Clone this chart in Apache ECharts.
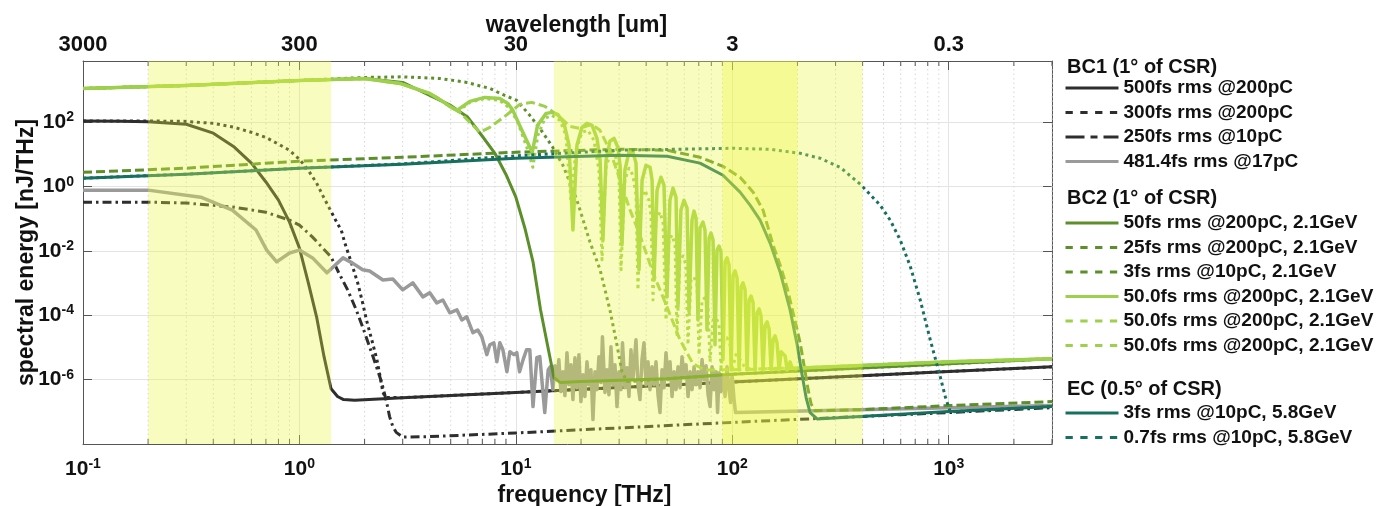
<!DOCTYPE html>
<html>
<head>
<meta charset="utf-8">
<title>CSR spectra</title>
<script src="https://cdn.jsdelivr.net/npm/echarts@6/dist/echarts.min.js"></script>
<style>
  html, body { margin: 0; padding: 0; background: #ffffff; }
  #chart { width: 1376px; height: 506px; }
</style>
</head>
<body>
<div id="chart"></div>
<script>
// Spectral energy of coherent synchrotron radiation, [frequency THz, energy nJ/THz]

// ---- BC1 ----
const bc1_500fs = [[0.1,110],[0.15,108],[0.2,105],[0.3,87],[0.4,46],[0.5,17],[0.6,5.4],[0.7,1.4],[0.8,0.38],[0.9,0.079],[1.0,0.0124],[1.1,1.0e-3],[1.2,9e-5],[1.3,5.1e-6],[1.4,5.2e-7],[1.5,3.0e-7],[1.6,2.4e-7],[1.8,2.3e-7],[3,2.75e-7],[10,4.0e-7],[100,8.4e-7],[1000,1.8e-6],[3000,2.5e-6]];
const bc1_300fs = [[0.1,110],[0.2,110],[0.3,107],[0.4,93],[0.5,70],[0.6,49],[0.7,34],[0.8,21],[0.9,13.5],[1.0,7.1],[1.1,3.2],[1.2,1.3],[1.3,0.44],[1.4,0.17],[1.5,0.07],[1.56,0.045],[1.62,0.018],[1.74,4.2e-3],[1.86,1.0e-3],[1.96,2.4e-4],[2.04,7.2e-5],[2.16,1.7e-5],[2.28,4.2e-6],[2.36,1.24e-6],[2.43,4.0e-7],[2.5,2.8e-7],[3,2.75e-7],[10,4.0e-7],[100,8.4e-7],[1000,1.8e-6],[3000,2.5e-6]];
const bc1_250fs = [[0.1,0.33],[0.2,0.33],[0.3,0.31],[0.5,0.23],[0.7,0.16],[0.9,0.091],[1.0,0.064],[1.15,0.027],[1.4,6.5e-3],[1.52,2.1e-3],[1.67,6.2e-4],[1.83,1.48e-4],[1.96,4.3e-5],[2.11,1.05e-5],[2.27,2.5e-6],[2.4,8.1e-7],[2.53,1.94e-7],[2.61,7.1e-8],[2.7,3.5e-8],[2.8,2.3e-8],[3.0,1.65e-8],[4,1.7e-8],[10,2.2e-8],[100,4.7e-8],[1000,9.5e-8],[3000,1.35e-7]];
const bc1_481fs = [[0.1,0.78],[0.2,0.78],[0.35,0.47],[0.49,0.187],[0.63,0.045],[0.706,0.0107],[0.785,4.6e-3],[0.9,8.7e-3],[1.0,0.0107],[1.15,6.1e-3],[1.34,2.1e-3],[1.59,6.1e-3],[1.76,4.2e-3],[1.96,2.6e-3],[2.11,2.4e-3],[2.43,1.26e-3],[2.7,1.35e-3],[3.0,6.2e-4],[3.34,1.02e-3],[3.72,3.75e-4],[4.0,5.0e-4],[4.31,2.44e-4],[4.6,3.0e-4],[4.95,1.2e-4],[5.34,1.48e-4],[5.63,7.2e-5],[5.93,9.0e-5],[6.33,2.9e-5],[6.67,3.5e-5],[6.96,2.15e-5],[7.34,6.0e-6],[7.58,1.22e-5],[7.91,1.4e-5],[8.17,3.6e-6],[8.43,1.4e-5],[8.71,8.5e-6],[9.09,1.77e-6],[9.38,7.4e-6],[9.79,6.0e-6],[10.1,6.9e-6],[10.4,1.77e-6],[10.8,4.2e-6],[11.2,8.5e-6],[11.6,8.5e-6],[12.0,1.46e-7],[12.5,4.8e-6],[12.9,5.2e-6],[13.6,9.5e-8],[14.1,2.0e-6],[14.4,2.5e-6],
  [14.83,4.9e-7],[15.15,2.7e-6],[15.47,1.0e-6],[15.80,4.2e-6],[16.15,4.25e-7],[16.50,1.77e-6],[16.85,3.2e-7],[17.22,6.9e-6],[17.59,7.0e-7],[17.97,2.9e-6],[18.35,2.4e-7],[18.75,4.8e-6],[19.15,5.65e-7],[19.56,6.0e-6],[19.98,2.08e-7],[20.41,1.43e-6],[20.85,3.0e-7],[21.30,3.6e-6],[21.76,7.0e-7],[22.23,2.04e-6],[22.71,5.75e-8],[23.20,1.77e-6],[23.69,4.9e-7],[24.20,5.2e-6],[24.72,8.1e-7],[25.12,2.15e-5],[25.80,4.0e-7],[26.35,2.04e-6],[26.92,3.4e-7],[27.50,1.05e-5],[28.09,7.0e-7],[28.70,2.9e-6],[29.32,1.46e-7],[29.95,1.77e-6],[30.59,4.9e-7],[31.09,1.4e-5],[31.92,5.65e-7],[32.61,2.35e-6],[33.31,3.0e-7],[34.02,8.5e-6],[34.75,1.0e-6],[35.89,1.74e-5],[36.66,7.0e-7],[37.45,2.4e-7],[38.26,4.2e-6],[39.08,1.4e-5],[39.93,7.0e-7],[40.79,3.6e-6],[41.66,4.9e-7],[42.56,2.5e-6],[43.48,7.0e-7],[44.41,3.6e-6],[45.37,3.4e-7],[46.34,9.5e-8],[47.34,2.04e-6],[48.36,5.65e-7],[49.40,6.9e-6],[50.47,1.0e-6],[51.55,3.6e-6],[52.66,3.0e-7],[53.80,1.77e-6],[54.95,4.9e-7],[56.14,2.5e-6],[57.35,5.65e-7],[58.58,5.2e-6],[59.84,1.15e-6],[61.13,2.9e-6],[62.45,3.0e-7],[63.79,1.77e-6],[65.17,4.9e-7],[66.57,2.5e-6],[68.00,7.0e-7],[69.46,1.77e-6],[70.96,5.65e-7],[72.49,4.2e-6],[74.04,1.0e-6],[75.64,2.7e-6],[77.27,3.4e-7],[78.93,1.46e-7],[80.63,2.5e-6],[82.37,4.9e-7],[84.14,1.77e-6],[85.50,9.5e-8],[86.87,1.65e-6],[88.74,4.25e-7],[90.65,1.15e-6],[92.60,3.0e-7],[94.56,2.5e-6],[96.60,4.9e-7],[98.15,1.94e-7],[99.73,1.43e-6],[101.9,2.4e-7],[103.5,9.5e-8],[1000,1.35e-7],[3000,1.57e-7]];

// ---- BC2 ----
const bc2_50fs = [[0.1,1130],[0.3,1400],[1,2000],[2,2300],[3,1740],[4,690],[5,336],[6,143],[7,37],[8,10.9],[9,2.4],[10,0.47],[11,0.052],[12,4.6e-3],[13,1.5e-4],[14,1.2e-5],[15,1.15e-6],[16,8.2e-7],[20,8.7e-7],[50,1.07e-6],[100,1.48e-6],[1000,3.1e-6],[3000,4.5e-6]];
const bc2_25fs = [[0.1,1130],[0.3,1400],[1,2000],[2,2480],[3,2600],[4.45,2312],[5.93,1740],[7.58,1130],[8.89,687],[10.1,481],[11.6,165],[13.3,49],[14.8,16.8],[16.5,4.6],[19.15,0.38],[22.0,0.019],[24.5,2.6e-3],[27.2,1.48e-4],[29.3,1.22e-5],[30.9,1.77e-6],[32.6,8.7e-7],[50,1.07e-6],[100,1.48e-6],[1000,3.1e-6],[3000,4.5e-6]];
const bc2_3fs = [[0.1,2.8],[0.3,3.75],[1,6.2],[3,8.2],[10,11.8],[30,14.6],[50,13.6],[70.9,8.2],[90.6,4.3],[108.6,1.97],[124.8,0.675],[138.7,0.187],[154.3,0.0153],[166.3,3.7e-3],[179.2,7.1e-4],[190.9,1.2e-4],[205.8,1.4e-5],[217,1.77e-6],[224,4.9e-7],[231.3,1.74e-7],[241.3,1.08e-7],[390,1.17e-7],[1000,1.56e-7],[3000,2.08e-7]];
const bc2_50fs_a = [[0.1,1130],[0.3,1400],[1,2000],[2,2300],[2.91,1620],[4,790],[4.45,517],[4.95,313],[5.34,236],[6.13,448],[7.19,596],[8.43,555],[9.18,388],[9.69,236],[10.4,81],[11.9,11.7],[12.6,81],[13.8,190],[14.7,204],[15.6,177],[16.7,93],[17.6,19.4],[18.35,0.045],[19.15,19.4],[20.2,70],[21.3,93],[22.5,81],[23.7,31.9],[24.5,6.6],[25.25,0.022],[26.1,6.6],[27.2,25.8],[28.4,31.9],[29.6,16.8],[30.3,4.6],[30.9,0.0153],[31.9,3.25],[33.3,11.7],[34.75,11.7],[35.9,5.4],[37.05,2.6e-3],[38.3,1.59],[39.9,4.6],[41.7,4.0],[42.6,1.59],[43.5,1.26e-3],[44.9,0.78],[46.8,1.97],[48.35,1.11],[49.9,3.75e-4],[51.5,0.38],[53.2,0.90],[54.95,0.47],[56.1,1.84e-4],[57.9,0.187],[59.8,0.38],[61.8,0.215],[63.1,1.29e-4],[65.15,0.0914],[66.55,0.174],[68.0,0.105],[69.4,7.2e-5],[70.9,0.0516],[73.2,0.0793],[74.8,0.0448],[76.4,3.5e-5],[78.1,0.0253],[79.7,0.0362],[81.5,0.0219],[83.2,1.22e-5],[85.0,0.0107],[86.85,0.0143],[88.7,9.3e-3],[90.6,4.2e-6],[92.6,4.6e-3],[94.6,6.1e-3],[96.6,3.7e-3],[98.7,2.0e-6],[100.8,1.8e-3],[103,2.4e-3],[105.2,1.46e-3],[107.5,2.0e-6],[109.8,7.7e-4],[112.1,1.02e-3],[114.6,6.2e-4],[117,2.0e-6],[119.6,3.0e-4],[122.1,4.0e-4],[124.8,2.44e-4],[127.4,2.0e-6],[130.2,1.2e-4],[133,1.59e-4],[135.8,9.6e-5],[138.7,2.0e-6],[141.7,4.7e-5],[144.8,6.3e-5],[147.9,3.8e-5],[151.1,2.0e-6],[154.3,1.74e-5],[157.6,2.3e-5],[161,1.4e-5],[164.5,2.0e-6],[168.1,7.4e-6],[171.7,8.5e-6],[175.4,5.5e-6],[179.2,2.0e-6],[184.9,3.6e-6],[188.9,2.35e-6],[195.1,2.2e-6],[206,2.3e-6],[1000,3.6e-6],[3000,4.5e-6]];
const bc2_50fs_b = [[0.1,1130],[0.3,1400],[1,2000],[2,2300],[2.91,1620],[4,790],[4.45,517],[4.95,313],[5.51,204],[6.13,100],[6.82,49],[7.58,70],[8.89,153],[10.43,362],[11.86,417],[13.62,313],[15.64,165],[17.78,75],[19.77,65],[22.46,87],[24.46,56.5],[27.2,13.5],[30.3,1.59],[33.7,0.187],[37.45,0.0313],[43.0,2.1e-3],[49.9,1.84e-4],[57.3,1.74e-5],[65.85,3.1e-6],[74.8,2.0e-6],[100,2.04e-6],[206,2.3e-6],[1000,3.6e-6],[3000,4.5e-6]];
const bc2_50fs_c = [[0.1,1130],[0.3,1400],[1,2000],[2,2300],[2.91,1620],[4,790],[4.45,517],[4.95,313],[5.39,219],[6.13,417],[7.19,555],[8.43,481],[9.38,272],[10.21,100],[11.36,13.5],[11.98,4.0],[12.64,39.5],[13.62,133],[14.67,165],[15.98,115],[17.03,39.5],[17.96,0.38],[18.95,13.5],[20.2,49],[21.53,56.5],[22.95,27.7],[24.2,3.25],[25.0,5.3e-3],[26.07,3.75],[27.5,13.5],[28.7,10.9],[29.95,2.27],[30.6,2.6e-3],[31.9,1.59],[33.3,3.75],[34.75,2.27],[35.9,0.545],[36.65,6.2e-4],[37.85,0.38],[39.5,0.78],[41.2,0.38],[42.1,0.131],[43.0,3.0e-4],[44.4,0.0914],[46.3,0.162],[47.85,0.0793],[49.4,7.2e-5],[51.0,0.0219],[52.65,0.0313],[54.4,0.0153],[55.5,2.5e-5],[57.3,5.3e-3],[59.2,7.0e-3],[61.1,3.7e-3],[62.4,1.22e-5],[64.5,1.26e-3],[66.55,1.56e-3],[68.7,8.8e-4],[70.2,6.0e-6],[72.5,3.0e-4],[74.8,3.5e-4],[77.2,2.1e-4],[78.9,3.6e-6],[81.5,7.2e-5],[84.1,8.4e-5],[86.85,5.1e-5],[88.7,2.35e-6],[91.6,1.74e-5],[94.6,2.0e-5],[97.6,1.22e-5],[99.7,2.04e-6],[104.1,6.0e-6],[108.6,4.2e-6],[114.6,2.35e-6],[120.8,2.2e-6],[206,2.3e-6],[1000,3.6e-6],[3000,4.5e-6]];

// ---- EC ----
const ec_3fs = [[0.1,1.84],[0.3,2.44],[1,3.75],[3,5.0],[10,7.65],[30,9.48],[50,8.8],[70.9,5.4],[90.6,2.27],[108.6,0.675],[120.8,0.267],[134.4,0.0914],[149.5,0.0177],[166.3,2.23e-3],[184.9,1.48e-4],[199.3,1.22e-5],[210.1,1.43e-6],[219.3,2.77e-7],[228.8,9.5e-8],[246.6,6.0e-8],[390,7.1e-8],[1000,1.03e-7],[3000,1.46e-7]];
const ec_07fs = [[0.1,1.84],[0.3,2.44],[1,3.75],[3,5.1],[10,9.1],[30,13.6],[100.8,15.6],[149.5,14.5],[205.8,10.9],[254.6,7.65],[315,4.0],[389.8,1.2],[482.2,0.267],[536.4,0.0914],[596.8,0.0219],[663.7,3.4e-3],[738.3,3.0e-4],[821.4,1.74e-5],[913.3,1.24e-6],[963.4,3.0e-7],[1016,1.0e-7],[3000,1.46e-7]];

// shaded frequency windows [THz]
const bandRanges = [[0.2, 1.4], [15, 400], [90, 200]];

// axis ranges and tick labels
const freqRange = [0.1, 3000];
const energyRange = [1e-8, 8.07e3];
const wavelengthTickLabels = ['3000', '300', '30', '3', '0.3'];   // um at 0.1 ... 1000 THz
const minorFreqTicks = [];
[0.1, 1, 10, 100, 1000].forEach(d => {
  for (let m = 2; m <= 9; m++) { if (d * m <= freqRange[1] * 1.0001) minorFreqTicks.push(+(d * m).toPrecision(3)); }
});

// legend texts
const legendGroups = [
  { title: 'BC1 (1° of CSR)', titleY: 69, top: 76,
    items: [['bc1_500', '500fs rms @200pC'], ['bc1_300', '300fs rms @200pC'], ['bc1_250', '250fs rms @10pC'], ['bc1_481', '481.4fs rms @17pC']] },
  { title: 'BC2 (1° of CSR)', titleY: 200, top: 211,
    items: [['bc2_50', '50fs rms @200pC, 2.1GeV'], ['bc2_25', '25fs rms @200pC, 2.1GeV'], ['bc2_3', '3fs rms @10pC, 2.1GeV'],
            ['bc2_50a', '50.0fs rms @200pC, 2.1GeV'], ['bc2_50b', '50.0fs rms @200pC, 2.1GeV'], ['bc2_50c', '50.0fs rms @200pC, 2.1GeV']] },
  { title: 'EC (0.5° of CSR)', titleY: 391, top: 401,
    items: [['ec_3', '3fs rms @10pC, 5.8GeV'], ['ec_07', '0.7fs rms @10pC, 5.8GeV']] }
];

const FONT = '"Liberation Sans", Arial, Helvetica, sans-serif';
const C = { dark: '#2e2e2e', gray: '#9a9a9a', green: '#5c8f2a', light: '#9dd04b', teal: '#17705f' };
const DOT = [3, 3.7], DASH = [9, 4], DASHDOT = [9, 4, 2.5, 4];
const LEG_DASH = [7.3, 7.5], LEG_DASHDOT = [19, 6, 7, 6];

const seriesSpec = [
  { name: 'bc1_500', data: bc1_500fs, color: C.dark, width: 3, dash: 'solid' },
  { name: 'bc1_300', data: bc1_300fs, color: C.dark, width: 3, dash: DOT, leg: LEG_DASH },
  { name: 'bc1_250', data: bc1_250fs, color: C.dark, width: 3, dash: DASHDOT, leg: LEG_DASHDOT },
  { name: 'bc1_481', data: bc1_481fs, color: C.gray, width: 3.5, dash: 'solid' },
  { name: 'bc2_50',  data: bc2_50fs, color: C.green, width: 3, dash: 'solid' },
  { name: 'bc2_25',  data: bc2_25fs, color: C.green, width: 3, dash: DOT, leg: LEG_DASH },
  { name: 'bc2_3',   data: bc2_3fs, color: C.green, width: 3, dash: DASH, leg: LEG_DASH },
  { name: 'bc2_50a', data: bc2_50fs_a, color: C.light, width: 3.5, dash: 'solid' },
  { name: 'bc2_50b', data: bc2_50fs_b, color: C.light, width: 3, dash: DASH, leg: LEG_DASH },
  { name: 'bc2_50c', data: bc2_50fs_c, color: C.light, width: 3, dash: DOT, leg: LEG_DASH },
  { name: 'ec_3',    data: ec_3fs, color: C.teal, width: 3, dash: 'solid' },
  { name: 'ec_07',   data: ec_07fs, color: C.teal, width: 3, dash: DOT, leg: LEG_DASH }
];
const specByName = {};
seriesSpec.forEach(s => { specByName[s.name] = s; });
const labelByName = {};
legendGroups.forEach(g => g.items.forEach(([n, t]) => { labelByName[n] = t; }));

const exp10 = v => Math.round(Math.log10(v));
const isDecade = v => Math.abs(Math.log10(v) - exp10(v)) < 1e-6;
const supRich = (base, sup) => ({
  b: { fontFamily: FONT, fontWeight: 'bold', fontSize: base, color: '#111', lineHeight: 24 },
  s: { fontFamily: FONT, fontWeight: 'bold', fontSize: sup, color: '#111', lineHeight: 18, verticalAlign: 'top' }
});

const axisLineStyle = { color: '#555555', width: 1 };
const titleStyle = { fontFamily: FONT, fontWeight: 'bold', fontSize: 23, color: '#111' };

const option = {
  animation: false,
  backgroundColor: '#ffffff',
  grid: { left: 83, right: 324, top: 61, bottom: 62, containLabel: false, outerBoundsMode: 'none' },
  xAxis: [
    {
      type: 'log', logBase: 10, min: freqRange[0], max: freqRange[1], position: 'bottom',
      name: 'frequency [THz]', nameLocation: 'middle', nameGap: 40, nameMoveOverlap: false,
      nameTextStyle: Object.assign({ padding: [0, 0, 0, 34] }, titleStyle),
      axisLine: { show: true, lineStyle: axisLineStyle },
      axisTick: { show: true, inside: true, length: 9, lineStyle: axisLineStyle },
      splitLine: { show: true, lineStyle: { color: '#e4e4e4', width: 1 } },
      axisLabel: {
        margin: 13,
        formatter: v => { const e = exp10(v); return isDecade(v) && e <= 3 ? '{b|10}{s|' + e + '}' : ''; },
        rich: supRich(21, 14)
      }
    },
    {
      type: 'log', logBase: 10, min: freqRange[0], max: freqRange[1], position: 'top',
      name: 'wavelength [um]', nameLocation: 'middle', nameGap: 24, nameMoveOverlap: false,
      nameTextStyle: Object.assign({ padding: [0, 0, 0, 18] }, titleStyle),
      axisLine: { show: true, lineStyle: axisLineStyle },
      axisTick: { show: true, inside: true, length: 9, lineStyle: axisLineStyle },
      splitLine: { show: false },
      axisLabel: {
        margin: 5, fontFamily: FONT, fontWeight: 'bold', fontSize: 22, color: '#111',
        formatter: v => { const e = exp10(v); return isDecade(v) && e <= 3 ? wavelengthTickLabels[e + 1] : ''; }
      }
    }
  ],
  yAxis: [
    {
      type: 'log', logBase: 100, min: energyRange[0], max: energyRange[1], position: 'left',
      name: 'spectral energy [nJ/THz]', nameLocation: 'middle', nameGap: 45, nameRotate: 90, nameMoveOverlap: false,
      nameTextStyle: titleStyle,
      axisLine: { show: true, lineStyle: axisLineStyle },
      axisTick: { show: true, inside: true, length: 9, lineStyle: axisLineStyle },
      splitLine: { show: true, lineStyle: { color: '#e4e4e4', width: 1 } },
      axisLabel: {
        margin: 9,
        formatter: v => { const e = exp10(v); return (isDecade(v) && e >= -6 && e <= 2) ? '{b|10}{s|' + e + '}' : ''; },
        rich: supRich(21, 14)
      }
    },
    {
      type: 'log', logBase: 100, min: energyRange[0], max: energyRange[1], position: 'right',
      axisLine: { show: true, lineStyle: axisLineStyle },
      axisTick: { show: true, inside: true, length: 9, lineStyle: axisLineStyle },
      splitLine: { show: false }, axisLabel: { show: false }
    }
  ],
  legend: legendGroups.map(g => ({
    orient: 'vertical', left: 1064, top: g.top, padding: 0, itemGap: 0.5,
    itemWidth: 53, itemHeight: 14, selectedMode: false,
    itemStyle: { opacity: 0 },
    textStyle: { fontFamily: FONT, fontWeight: 'bold', fontSize: 19, color: '#111', lineHeight: 24 },
    formatter: n => labelByName[n],
    data: g.items.map(([n]) => ({
      name: n,
      itemStyle: { opacity: 0 },
      lineStyle: { color: specByName[n].color, width: 3, type: specByName[n].leg || 'solid', cap: 'butt' }
    }))
  })),
  graphic: legendGroups.map(g => ({
    type: 'text', left: 1067, top: g.titleY - 12,
    style: { text: g.title, font: 'bold 20px ' + FONT, fill: '#111' }
  })),
  series: [
    {
      name: 'minor grid', type: 'custom', xAxisIndex: 0, yAxisIndex: 0, silent: true, z: 1, clip: false,
      data: minorFreqTicks.map(v => [v, 1]),
      renderItem: (params, api) => {
        const v = api.value(0);
        const b = api.coord([v, energyRange[0]]);
        const t = api.coord([v, energyRange[1]]);
        return {
          type: 'group', children: [
            { type: 'line', shape: { x1: b[0], y1: b[1], x2: t[0], y2: t[1] }, style: { stroke: '#d6d6d6', lineWidth: 1, lineDash: [1.5, 3] } },
            { type: 'line', shape: { x1: b[0], y1: b[1], x2: b[0], y2: b[1] - 5 }, style: { stroke: '#555555', lineWidth: 1 } },
            { type: 'line', shape: { x1: t[0], y1: t[1], x2: t[0], y2: t[1] + 5 }, style: { stroke: '#555555', lineWidth: 1 } }
          ]
        };
      }
    }
  ].concat(seriesSpec.map(s => ({
    name: s.name, type: 'line', data: s.data, xAxisIndex: 0, yAxisIndex: 0,
    symbol: 'none', showSymbol: false, smooth: false, silent: true, z: 3,
    lineStyle: { color: s.color, width: s.width, type: s.dash, cap: 'butt', join: 'round' },
    itemStyle: { color: s.color }
  }))).concat([
    {
      name: 'windows', type: 'line', data: [], xAxisIndex: 0, yAxisIndex: 0, silent: true, z: 10,
      markArea: {
        silent: true, z: 10,
        itemStyle: { color: 'rgba(236,245,60,0.33)' },
        data: bandRanges.map(r => [{ xAxis: r[0] }, { xAxis: r[1] }])
      }
    }
  ])
};

const chart = echarts.init(document.getElementById('chart'), null, { renderer: 'canvas' });
chart.setOption(option);
</script>
</body>
</html>
